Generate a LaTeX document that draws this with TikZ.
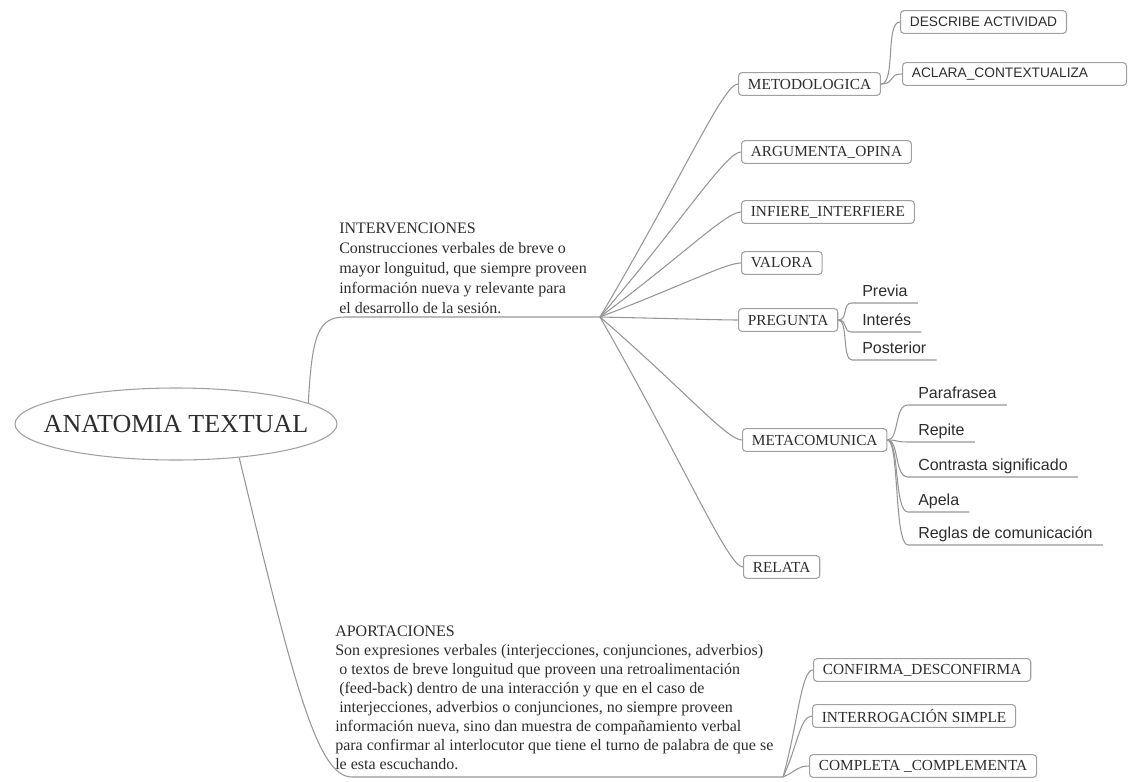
\documentclass[tikz,border=0pt]{standalone}
\usepackage{fontspec}
\setmainfont{Liberation Serif}
\newfontfamily\arialfont{Liberation Sans}
\usetikzlibrary{shapes.geometric,calc}

\definecolor{linegray}{RGB}{150,150,150}
\definecolor{boxgray}{RGB}{160,160,160}
\definecolor{inkgray}{RGB}{45,45,45}

\begin{document}
\begin{tikzpicture}[x=0.75pt,y=-0.75pt,
  conn/.style={draw=linegray, line width=0.8pt},
  topic/.style={draw=boxgray, line width=0.8pt, rounded corners=2.5pt, fill=white,
    text=inkgray, font=\fontsize{11.5}{13}\selectfont, inner xsep=7pt, inner ysep=0pt,
    minimum height=17pt, anchor=west},
  sanstopic/.style={topic, font=\arialfont\fontsize{10.3}{12}\selectfont},
  leaf/.style={text=inkgray, font=\arialfont\fontsize{12}{14}\selectfont,
    inner xsep=7.5pt, inner ysep=4.5pt, text depth=0pt, anchor=south west},
  note/.style={text=inkgray, align=left, inner sep=0pt, anchor=north west}]

\useasboundingbox (0,0) rectangle (1140,782);

% central topic: the ellipse keeps its own size, the title is set in a zero-width box
\node[draw=boxgray, line width=0.8pt, ellipse, minimum width=241.5pt, minimum height=54pt,
  inner sep=0pt, text=inkgray, font=\fontsize{19.5}{22}\selectfont] (root) at (176,424)
  {\makebox[0pt]{ANATOMIA TEXTUAL}};

% branch hubs
\coordinate (hubI) at (600,317);
\coordinate (hubA) at (783,777);

% descriptive notes
\node[note, font=\fontsize{12}{15}\selectfont] (intv) at (339,223)
  {INTERVENCIONES\\
   Construcciones verbales de breve o\\
   mayor longuitud, que siempre proveen\\
   información nueva y relevante para\\
   el desarrollo de la sesión.};
\node[note, font=\fontsize{12}{14.2}\selectfont] (aport) at (335,626)
  {APORTACIONES\\
   Son expresiones verbales (interjecciones, conjunciones, adverbios)\\
   \hspace*{0.25em}o textos de breve longuitud que proveen una retroalimentación\\
   \hspace*{0.25em}(feed-back) dentro de una interacción y que en el caso de\\
   \hspace*{0.25em}interjecciones, adverbios o conjunciones, no siempre proveen\\
   información nueva, sino dan muestra de compañamiento verbal\\
   para confirmar al interlocutor que tiene el turno de palabra de que se\\
   le esta escuchando.};

% INTERVENCIONES topics
\node[topic] (met)  at (738,84)  {METODOLOGICA};
\node[topic] (arg)  at (741,152) {ARGUMENTA\_OPINA};
\node[topic] (inf)  at (741,212) {INFIERE\_INTERFIERE};
\node[topic] (val)  at (741,263) {VALORA};
\node[topic] (preg) at (738,320) {PREGUNTA};
\node[topic] (meta) at (742,440) {METACOMUNICA};
\node[topic] (rel)  at (743,567) {RELATA};

\node[sanstopic] (desc) at (900,22) {DESCRIBE ACTIVIDAD};
\node[sanstopic, text width=154pt, align=left] (acl) at (902,74) {ACLARA\_CONTEXTUALIZA};

% APORTACIONES topics
\node[topic] (conf)   at (813,670) {CONFIRMA\_DESCONFIRMA};
\node[topic] (interr) at (812,716) {INTERROGACIÓN SIMPLE};
\node[topic] (compl)  at (809,766) {COMPLETA \_COMPLEMENTA};

% underlined leaves
\node[leaf] (prev) at (852,303) {Previa};
\node[leaf] (intr) at (852,332) {Interés};
\node[leaf] (post) at (852,360) {Posterior};

\node[leaf] (para) at (908,405) {Parafrasea};
\node[leaf] (rep)  at (908,442) {Repite};
\node[leaf] (cont) at (908,477) {Contrasta significado};
\node[leaf] (apel) at (908,512) {Apela};
\node[leaf] (regl) at (908,545) {Reglas de comunicación};

% main branches
\draw[conn] (root.9) .. controls (312,335) and (318,317) .. (345,317) -- (hubI);
\draw[conn] (root.-28) .. controls (295,690) and (318,777) .. (352,777) -- (hubA);

\foreach \n in {met,arg,inf,val,preg,meta,rel}
  \draw[conn] (hubI) .. controls ($(hubI)!0.6!(\n.west)$) and ($(\n.west)+(-15,0)$) .. (\n.west);
\foreach \n in {conf,interr,compl}
  \draw[conn] (hubA) .. controls ($(hubA)!0.5!(\n.west)$) and ($(\n.west)+(-12,0)$) .. (\n.west);

\foreach \n in {desc,acl}
  \draw[conn] (met.east) .. controls +(15,0) and +(-15,0) .. (\n.west);

\foreach \n in {prev,intr,post}
  \draw[conn] (preg.east) .. controls +(10,0) and +(-10,0) .. (\n.south west) -- (\n.south east);
\foreach \n in {para,rep,cont,apel,regl}
  \draw[conn] (meta.east) .. controls +(12,0) and +(-14,0) .. (\n.south west) -- (\n.south east);

\end{tikzpicture}
\end{document}
